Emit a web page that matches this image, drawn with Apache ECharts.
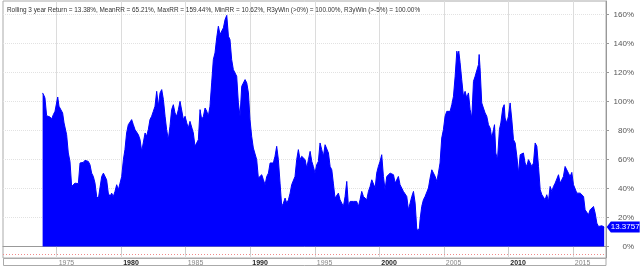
<!DOCTYPE html>
<html><head><meta charset="utf-8">
<script src="https://cdn.jsdelivr.net/npm/echarts@6/dist/echarts.min.js"></script>
<style>html,body{margin:0;padding:0;background:#fff}#c{width:640px;height:268px}</style>
</head><body><div id="c"></div>
<script>
const titleText = 'Rolling 3 year Return = 13.38%, MeanRR = 65.21%, MaxRR = 159.44%, MinRR = 10.62%, R3yWin (>0%) = 100.00%, R3yWin (>-5%) = 100.00%';
const lastLabel = '13.3757';
const refLevel = -5;
const yTicks = [0, 20, 40, 60, 80, 100, 120, 140, 160];
const xTicks = [1975, 1980, 1985, 1990, 1995, 2000, 2005, 2010, 2015];

const years = [
1973.91,1974.02,1974.09,1974.22,1974.35,1974.48,1974.61,1974.74,1974.87,1975.00,1975.08,1975.18,1975.33,1975.46,1975.57,1975.64,1975.77,1975.90,
1976.03,1976.16,1976.29,1976.42,1976.55,1976.68,1976.81,1976.94,1977.06,1977.19,1977.32,1977.45,1977.58,1977.71,1977.84,1977.97,
1978.10,1978.23,1978.36,1978.49,1978.62,1978.74,1978.87,1979.00,1979.13,1979.26,1979.39,1979.52,1979.65,1979.78,1979.91,
1980.04,1980.17,1980.29,1980.42,1980.55,1980.68,1980.81,1980.94,1981.07,1981.20,1981.33,1981.46,1981.59,1981.72,1981.85,1981.97,
1982.10,1982.23,1982.36,1982.49,1982.62,1982.75,1982.88,1983.01,1983.14,1983.27,1983.40,1983.52,1983.65,1983.78,1983.91,
1984.04,1984.17,1984.30,1984.43,1984.56,1984.69,1984.82,
1984.95,1985.08,1985.20,1985.33,1985.46,1985.59,1985.72,1985.85,1985.98,1986.11,1986.24,1986.37,1986.50,1986.63,1986.75,1986.88,
1987.01,1987.14,1987.27,1987.40,1987.53,1987.66,1987.79,1987.92,1988.05,1988.18,1988.31,1988.43,1988.56,1988.69,1988.82,1988.95,
1989.08,1989.21,1989.34,1989.47,1989.60,1989.73,1989.86,1989.98,1990.11,1990.24,1990.37,1990.50,1990.63,1990.76,1990.89,
1991.02,1991.15,1991.28,1991.41,1991.54,1991.66,1991.79,1991.92,1992.05,1992.18,1992.31,1992.44,1992.57,1992.70,1992.83,1992.96,
1993.09,1993.21,1993.34,1993.47,1993.60,1993.73,1993.86,1993.99,1994.12,1994.25,1994.38,1994.51,1994.64,1994.77,1994.89,
1995.02,1995.15,1995.28,1995.41,1995.54,1995.67,
1995.80,1995.93,1996.06,1996.19,1996.32,1996.44,1996.57,1996.70,1996.83,1996.96,1997.09,1997.22,1997.35,1997.48,1997.61,1997.74,1997.87,
1998.00,1998.12,1998.25,1998.38,1998.51,1998.64,1998.77,1998.90,1999.03,1999.16,1999.29,1999.42,1999.55,1999.68,1999.80,1999.93,
2000.06,2000.19,2000.32,2000.45,2000.58,2000.71,2000.84,2000.97,2001.10,2001.23,2001.35,2001.48,2001.61,2001.74,2001.87,
2002.00,2002.13,2002.26,2002.39,2002.52,2002.65,2002.78,2002.90,2002.98,2003.11,2003.16,2003.29,2003.42,2003.55,2003.68,2003.81,2003.94,
2004.07,2004.20,2004.33,2004.46,2004.58,2004.71,2004.84,2004.97,2005.10,2005.23,2005.36,2005.49,2005.62,2005.75,2005.88,
2006.01,2006.08,2006.16,2006.26,2006.39,
2006.52,2006.65,2006.78,2006.91,2007.04,2007.17,2007.30,2007.43,2007.56,2007.69,2007.74,2007.81,2007.94,
2008.07,2008.20,2008.33,2008.46,2008.59,2008.72,2008.85,2008.93,2009.03,2009.16,2009.31,2009.42,2009.57,2009.68,2009.75,2009.88,
2010.01,2010.14,2010.27,2010.40,2010.53,2010.66,2010.79,2010.92,2011.04,2011.17,2011.30,2011.43,2011.56,2011.69,2011.82,2011.95,
2012.08,2012.21,2012.34,2012.47,2012.60,2012.72,2012.85,2012.98,2013.11,2013.24,2013.37,2013.50,2013.63,2013.76,2013.89,
2014.02,2014.15,2014.27,2014.40,2014.53,2014.66,2014.79,2014.92,2015.05,2015.18,2015.31,2015.44,2015.57,2015.70,2015.83,2015.95,
2016.08,2016.21,2016.34,2016.47,2016.60,2016.73,2016.86,2016.99,2017.12,2017.25,2017.43
];

const returns = [
105.9,104.0,102.4,90.2,89.8,89.3,87.9,90.9,93.2,94.4,103.1,96.7,95.5,92.1,85.2,84.0,77.1,64.5,
58.7,41.4,40.3,43.7,44.9,43.3,57.6,56.4,58.0,59.4,59.9,58.7,56.4,50.6,48.3,43.7,
34.5,33.1,33.4,48.3,50.6,49.5,46.0,36.8,34.5,36.8,34.5,38.0,42.6,39.1,43.7,
48.3,59.9,66.8,78.3,84.0,84.7,87.5,84.0,80.6,79.4,77.1,73.7,65.6,66.8,78.3,76.0,
80.6,87.5,89.8,93.2,96.7,107.0,96.7,105.9,108.2,101.3,89.8,80.6,73.7,82.9,94.4,
97.8,92.1,89.8,94.4,100.1,99.0,87.5,
89.8,85.2,81.7,86.3,86.3,78.3,69.1,69.1,73.7,94.4,87.5,89.8,95.5,93.2,89.8,96.7,
112.8,128.9,133.5,143.9,151.9,146.2,145.0,150.8,156.5,159.4,145.0,142.7,128.9,122.0,122.5,117.4,
99.0,89.8,110.5,111.6,115.1,112.8,105.9,87.5,76.0,67.9,66.8,59.9,47.2,46.0,49.5,
46.0,42.6,48.3,50.6,57.6,58.7,57.6,62.2,69.1,59.9,43.7,27.6,29.9,33.4,29.9,32.2,
36.8,42.6,41.4,48.3,59.9,66.8,59.9,62.2,62.2,59.9,54.1,59.9,65.6,58.7,55.2,
50.6,56.4,58.7,71.4,66.8,62.2,
70.2,69.1,64.5,55.2,52.9,43.7,33.4,34.5,36.8,32.2,31.1,27.6,34.5,44.9,27.6,31.1,32.2,
31.1,29.9,31.1,27.6,32.2,38.0,34.5,33.4,32.2,38.0,41.4,46.0,44.9,40.3,50.6,55.2,
58.7,63.3,48.3,39.1,48.3,47.2,50.6,51.1,49.5,43.7,43.7,48.3,42.6,43.7,38.0,
39.1,34.5,25.3,29.9,34.5,38.0,29.9,12.7,10.6,12.7,18.4,27.6,32.2,34.5,33.4,40.3,47.2,
52.9,54.1,48.3,44.9,50.6,57.6,74.8,80.6,89.8,93.2,94.4,93.2,97.8,103.6,117.4,
134.7,131.2,134.7,127.0,115.1,
103.6,107.0,102.4,105.9,94.4,88.6,113.9,117.4,117.4,125.5,132.4,123.2,99.0,
95.5,92.1,89.8,84.0,81.7,74.8,80.6,84.0,64.5,59.9,80.6,85.2,95.5,97.8,88.6,85.2,
89.8,99.0,87.5,73.7,71.4,62.2,50.6,63.3,62.2,64.5,57.6,55.2,59.9,57.6,55.2,57.6,
71.4,69.1,55.2,39.1,35.7,34.5,32.2,35.7,31.1,41.4,38.0,41.4,43.7,42.6,49.5,
43.7,42.6,48.3,55.2,56.4,50.6,48.3,51.1,42.6,41.4,36.8,35.7,36.8,36.8,34.5,25.3,
25.3,21.9,25.3,26.5,27.6,23.0,16.1,13.8,13.8,14.3,13.38
];

const seriesData = years.map((y, i) => [y, returns[i]]);
const lastPoint = seriesData[seriesData.length - 1];
const decades = xTicks.filter(t => t % 10 === 0);

const chart = echarts.init(document.getElementById('c'), null, {renderer: 'canvas'});
chart.setOption({
  animation: false,
  backgroundColor: '#fff',
  title: {
    text: titleText, left: 2, top: 2,
    textStyle: {fontFamily: 'Liberation Sans', fontSize: 6.4, fontWeight: 'normal', color: '#333'}
  },
  graphic: [{
    type: 'rect', silent: true, z: 0,
    shape: {x: 3.5, y: 258.5, width: 602.5, height: 7},
    style: {fill: 'none', stroke: '#aaa', lineWidth: 1}
  }],
  grid: {left: 3, right: 34, top: 1, bottom: 10, show: true, borderColor: '#aaa', borderWidth: 1, backgroundColor: 'transparent'},
  xAxis: {
    type: 'value', min: 1970.84, max: 2017.57,
    axisLine: {show: true, lineStyle: {color: '#999', width: 1}},
    axisTick: {show: true, customValues: xTicks, length: 8, lineStyle: {color: '#ccc'}},
    axisLabel: {
      customValues: xTicks, align: 'left', margin: 1.5,
      formatter: v => decades.includes(v) ? '{d|' + v + '}' : '{n|' + v + '}',
      rich: {
        d: {fontFamily: 'Liberation Sans', fontSize: 7, color: '#222', fontWeight: 'bold', padding: [0,0,0,2]},
        n: {fontFamily: 'Liberation Sans', fontSize: 7, color: '#888', padding: [0,0,0,2]}
      }
    },
    splitLine: {show: true, lineStyle: {color: '#dcdcdc', width: 1}}
  },
  yAxis: {
    type: 'value', position: 'right', min: -7.93, max: 169.3,
    axisLine: {show: true, lineStyle: {color: '#999'}},
    axisTick: {show: true, customValues: yTicks, length: 3, lineStyle: {color: '#999'}},
    axisLabel: {customValues: yTicks, formatter: '{value}%', align: 'right', margin: 28,
      fontFamily: 'Liberation Sans', fontSize: 8, color: '#555'},
    splitLine: {show: true, lineStyle: {color: '#e2e2e2', type: [1, 1], width: 1}}
  },
  series: [{
    type: 'line', data: seriesData, showSymbol: false, symbol: 'none', z: 3,
    lineStyle: {color: '#0000ff', width: 1},
    areaStyle: {color: '#0000ff', opacity: 1},
    markLine: {
      silent: true, symbol: 'none', label: {show: false},
      lineStyle: {color: '#f08a8a', type: [1, 2], width: 1},
      data: [{yAxis: refLevel}]
    },
    markPoint: {
      silent: true,
      symbol: 'path://M0,5 L5,0 L40,0 L40,10 L5,10 Z', symbolKeepAspect: false,
      symbolSize: [33, 11], symbolOffset: [19, 0],
      itemStyle: {color: '#0000ff'},
      label: {show: true, position: 'inside', offset: [2, 0], formatter: lastLabel,
        fontFamily: 'Liberation Sans', fontSize: 8, color: '#fff'},
      data: [{coord: lastPoint}]
    }
  }]
});
</script>
</body></html>
